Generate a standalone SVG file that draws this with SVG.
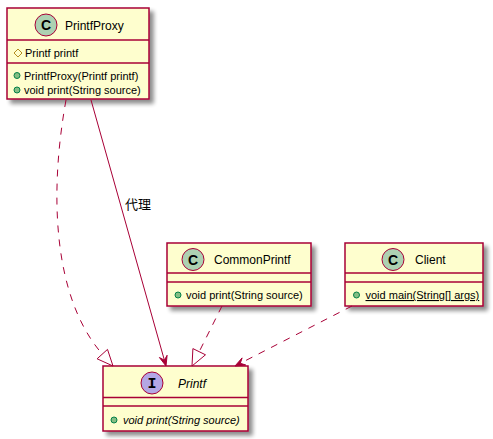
<svg xmlns="http://www.w3.org/2000/svg" width="493" height="439" viewBox="0 0 493 439">
<defs>
<filter id="sh" x="-10%" y="-10%" width="130%" height="140%">
<feGaussianBlur in="SourceAlpha" stdDeviation="2"/>
<feOffset dx="4" dy="4" result="b"/>
<feComponentTransfer><feFuncA type="linear" slope="0.45"/></feComponentTransfer>
<feMerge><feMergeNode/><feMergeNode in="SourceGraphic"/></feMerge>
</filter>
</defs>
<style>
.box{fill:#FEFECE;stroke:#A80036;stroke-width:1.5}
.div{stroke:#A80036;stroke-width:1.5}
.cc{fill:#ADD1B2;stroke:#A80036;stroke-width:1}
.ci{fill:#B4A7E5;stroke:#A80036;stroke-width:1}
.lt{font-family:"Liberation Sans",Arial,sans-serif;font-size:14px;font-weight:bold;fill:#000}
.lti{font-family:"Liberation Mono","Courier New",monospace;font-size:15px;font-weight:bold;fill:#000}
.t{font-family:"Liberation Sans",Arial,sans-serif;font-size:12px;fill:#000}
.m{font-family:"Liberation Sans",Arial,sans-serif;font-size:11px;fill:#000}
.pub{fill:#84BE84;stroke:#038048;stroke-width:1}
.pro{fill:none;stroke:#B38D22;stroke-width:1}
.ln{fill:none;stroke:#A80036;stroke-width:1}
.dash{stroke-dasharray:7,7}
.ah{fill:#A80036;stroke:#A80036;stroke-width:1}
.tri{fill:none;stroke:#A80036;stroke-width:1}
.lab{font-family:"Liberation Sans","Noto Sans CJK SC",sans-serif;font-size:13px;fill:#000}
</style>

<g id="PrintfProxy">
<rect class="box" x="7" y="8" width="142" height="91" filter="url(#sh)"/>
<circle class="cc" cx="46" cy="25" r="11"/>
<text class="lt" x="46" y="30" text-anchor="middle">C</text>
<text class="t" x="65" y="30">PrintfProxy</text>
<line class="div" x1="7" y1="40" x2="149" y2="40"/>
<polygon class="pro" points="18,49 22,53 18,57 14,53"/>
<text class="m" x="25" y="57">Printf printf</text>
<line class="div" x1="7" y1="63" x2="149" y2="63"/>
<circle class="pub" cx="17" cy="75.5" r="3"/>
<text class="m" x="24" y="79.5">PrintfProxy(Printf printf)</text>
<circle class="pub" cx="17" cy="90" r="3"/>
<text class="m" x="24" y="94">void print(String source)</text>
</g>

<g id="CommonPrintf">
<rect class="box" x="167" y="243" width="144" height="63" filter="url(#sh)"/>
<circle class="cc" cx="193" cy="259.5" r="11"/>
<text class="lt" x="193" y="264.5" text-anchor="middle">C</text>
<text class="t" x="214" y="264">CommonPrintf</text>
<line class="div" x1="167" y1="273" x2="311" y2="273"/>
<line class="div" x1="167" y1="282" x2="311" y2="282"/>
<circle class="pub" cx="178" cy="295" r="3"/>
<text class="m" x="186" y="299">void print(String source)</text>
</g>

<g id="Client">
<rect class="box" x="345" y="243" width="138" height="63" filter="url(#sh)"/>
<circle class="cc" cx="393" cy="259.5" r="11"/>
<text class="lt" x="393" y="264.5" text-anchor="middle">C</text>
<text class="t" x="415" y="264">Client</text>
<line class="div" x1="345" y1="273" x2="483" y2="273"/>
<line class="div" x1="345" y1="282" x2="483" y2="282"/>
<circle class="pub" cx="356.5" cy="295" r="3"/>
<text class="m" x="365.5" y="299" text-decoration="underline">void main(String[] args)</text>
</g>

<g id="Printf">
<rect class="box" x="103" y="366" width="145" height="65" filter="url(#sh)"/>
<circle class="ci" cx="152" cy="383" r="11"/>
<text class="lti" x="152" y="388" text-anchor="middle">I</text>
<text class="t" x="178" y="388" font-style="italic">Printf</text>
<line class="div" x1="103" y1="397.5" x2="248" y2="397.5"/>
<line class="div" x1="103" y1="406" x2="248" y2="406"/>
<circle class="pub" cx="114" cy="420" r="3"/>
<text class="m" x="123" y="424" font-style="italic">void print(String source)</text>
</g>

<g id="connectors">
<path class="ln dash" d="M66,100 C48,200 55,300 102.3,354.1"/>
<polygon class="tri" points="113,366 107.5,349.4 97.1,358.8"/>
<line class="ln" x1="91" y1="100" x2="164.4" y2="360.2"/>
<polygon class="ah" points="166,366 167.1,355.3 164.4,360.2 159.4,357.5"/>
<text class="lab" x="125" y="209">代理</text>
<line class="ln dash" x1="222" y1="306" x2="199.2" y2="351.7"/>
<polygon class="tri" points="192,366 205.5,354.8 192.9,348.6"/>
<line class="ln dash" x1="352" y1="306" x2="240.3" y2="363.3"/>
<polygon class="ah" points="235,366 245.7,365 240.3,363.3 242.1,357.9"/>
</g>
</svg>
